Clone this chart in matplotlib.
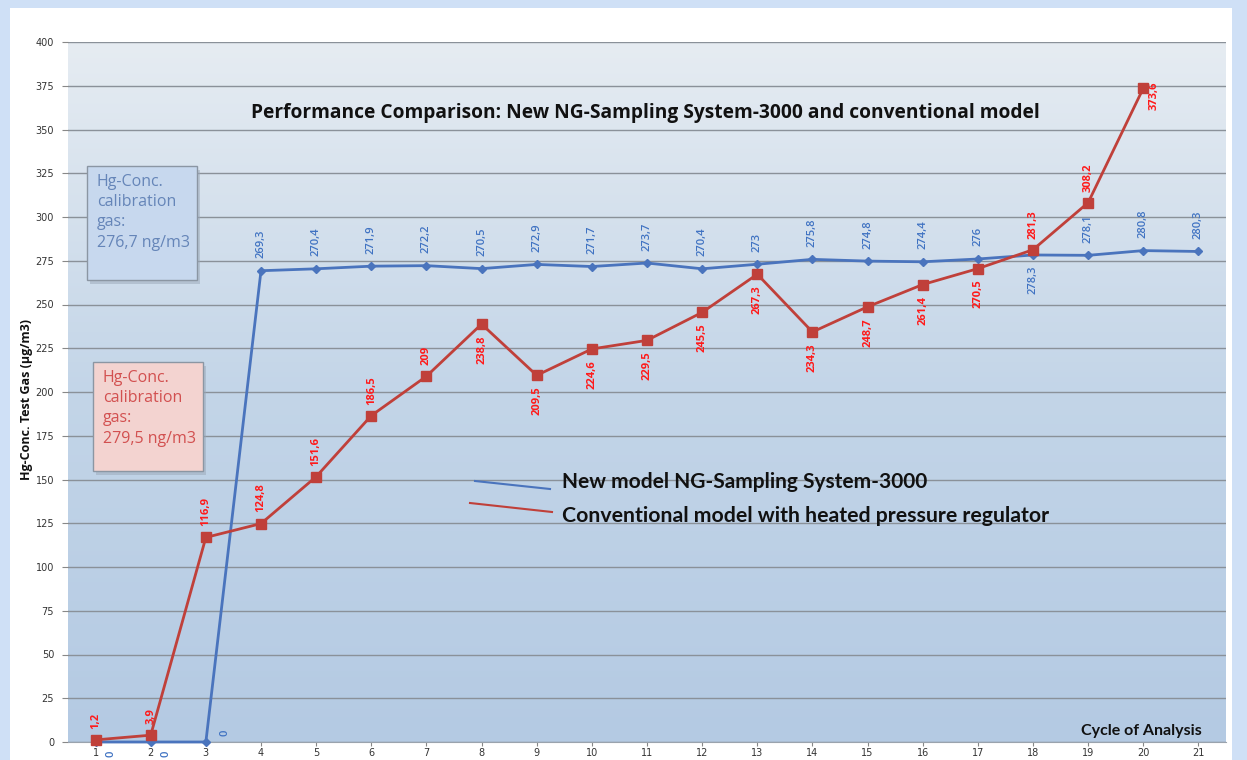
import numpy as np
import matplotlib
matplotlib.use("Agg")
import matplotlib.pyplot as plt
from matplotlib.patches import Rectangle
from matplotlib.colors import LinearSegmentedColormap

cycles = list(range(1, 22))
new_model = [0, 0, 0, 269.3, 270.4, 271.9, 272.2, 270.5, 272.9, 271.7, 273.7,
             270.4, 273, 275.8, 274.8, 274.4, 276, 278.3, 278.1, 280.8, 280.3]
conventional = [1.2, 3.9, 116.9, 124.8, 151.6, 186.5, 209, 238.8, 209.5, 224.6,
                229.5, 245.5, 267.3, 234.3, 248.7, 261.4, 270.5, 281.3, 308.2, 373.6]
new_labels = ["0", "0", "0", "269,3", "270,4", "271,9", "272,2", "270,5", "272,9",
              "271,7", "273,7", "270,4", "273", "275,8", "274,8", "274,4", "276",
              "278,3", "278,1", "280,8", "280,3"]
conv_labels = ["1,2", "3,9", "116,9", "124,8", "151,6", "186,5", "209", "238,8",
               "209,5", "224,6", "229,5", "245,5", "267,3", "234,3", "248,7",
               "261,4", "270,5", "281,3", "308,2", "373,6"]
yticks = list(range(0, 401, 25))
title = "Performance Comparison: New NG-Sampling System-3000 and conventional model"
series_names = ["New model NG-Sampling System-3000",
                "Conventional model with heated pressure regulator"]

W, H = 1247, 760
fig = plt.figure(figsize=(W / 100, H / 100), dpi=100)
fig.patch.set_facecolor("#cfe0f6")
# white panel
fig.patches.append(Rectangle((10 / W, 0), 1222 / W, 1 - 8 / H, transform=fig.transFigure,
                             facecolor="white", edgecolor="none", zorder=-10))

ax = fig.add_axes([68 / W, 18 / H, 1158 / W, 700 / H])
ax.set_zorder(1)

# gradient background
grad = np.linspace(0, 1, 256).reshape(-1, 1)
cmap = LinearSegmentedColormap.from_list("bg", ["#b4cae3", "#c3d5e8", "#e6ecf2"])
ax.imshow(grad, aspect="auto", cmap=cmap, extent=[0, 1, 0, 1], origin="lower",
          transform=ax.transAxes, zorder=0)
ax.set_xlim(0.5, 21.5)
ax.set_ylim(0, 400)

ax.set_yticks(yticks)
ax.set_xticks(cycles)
ax.tick_params(axis="y", labelsize=7, length=4, color="#888888", labelcolor="#333333", pad=6)
ax.tick_params(axis="x", labelsize=7, length=3, color="#888888", labelcolor="#333333", pad=1.5)
ax.grid(axis="y", color="#8a9199", linewidth=1.0, zorder=1)
for s in ["top", "right", "left"]:
    ax.spines[s].set_visible(False)
ax.spines["bottom"].set_color("#9aa3ad")

blue = "#4a74bd"
red = "#c0403a"
ax.plot(cycles, new_model, color=blue, lw=2, marker="D", ms=4, zorder=4, clip_on=False)
ax.plot(cycles[:len(conventional)], conventional, color=red, lw=2, marker="s", ms=7,
        zorder=5, clip_on=False)

blue_font = dict(family="Open Sans", fontsize=8, rotation=90, fontweight="semibold")
red_font = dict(family="Open Sans", fontsize=8, rotation=90, fontweight="bold")
# blue labels
for i, (x, y, t) in enumerate(zip(cycles, new_model, new_labels)):
    if i in (0, 1):
        ax.annotate(t, (x, y), xytext=(11, -6), textcoords="offset points",
                    ha="center", va="top", color="#3f72c2", annotation_clip=False, **blue_font)
    elif i == 2:
        ax.annotate(t, (x, y), xytext=(14, 4), textcoords="offset points",
                    ha="center", va="bottom", color="#3f72c2", **blue_font)
    elif i == 17:
        ax.annotate(t, (x, y), xytext=(0, -8), textcoords="offset points",
                    ha="center", va="top", color="#3f72c2", **blue_font)
    else:
        ax.annotate(t, (x, y), xytext=(0, 9), textcoords="offset points",
                    ha="center", va="bottom", color="#3f72c2", **blue_font)
# red labels
below = set(range(7, 17))
for i, (x, y, t) in enumerate(zip(cycles, conventional, conv_labels)):
    if i in below:
        ax.annotate(t, (x, y), xytext=(0, -8), textcoords="offset points",
                    ha="center", va="top", color="#ff1a1a", **red_font)
    elif i == 19:
        ax.annotate(t, (x, y), xytext=(8, 5), textcoords="offset points",
                    ha="center", va="top", color="#ff1a1a", **red_font)
    else:
        ax.annotate(t, (x, y), xytext=(0, 8), textcoords="offset points",
                    ha="center", va="bottom", color="#ff1a1a", **red_font)

# title
fig.text(645 / W, 1 - 113 / H, title, ha="center", va="center", fontsize=13.8,
         fontweight="bold", family="Open Sans", color="#111111", zorder=10)

# legend lines and text
fig.add_artist(plt.Line2D([475 / W, 550 / W], [1 - 481 / H, 1 - 489 / H], color=blue, lw=1.5, zorder=10))
fig.add_artist(plt.Line2D([470 / W, 552 / W], [1 - 503 / H, 1 - 512 / H], color=red, lw=1.5, zorder=10))
fig.text(562 / W, 1 - 482 / H, series_names[0], ha="left", va="center", fontsize=15,
         fontweight="bold", family="Lato", color="#111111", zorder=10)
fig.text(562 / W, 1 - 516 / H, series_names[1], ha="left", va="center", fontsize=15.3,
         fontweight="bold", family="Lato", color="#111111", zorder=10)

# calibration boxes
for (x0, y0, x1, y1, fc, tc, txt) in [
        (87, 166, 197, 280, "#c7d8ee", "#6585b8", "Hg-Conc.\ncalibration\ngas:\n276,7 ng/m3"),
        (93, 362, 203, 471, "#f3d3d0", "#d25050", "Hg-Conc.\ncalibration\ngas:\n279,5 ng/m3")]:
    fig.patches.append(Rectangle((x0 / W + 3 / W, 1 - (y1 + 4) / H), (x1 - x0) / W, (y1 - y0) / H,
                                 transform=fig.transFigure, facecolor="#9aa8b8", alpha=0.5,
                                 edgecolor="none", zorder=5))
    fig.patches.append(Rectangle((x0 / W, 1 - y1 / H), (x1 - x0) / W, (y1 - y0) / H,
                                 transform=fig.transFigure, facecolor=fc, edgecolor="#8b96a3",
                                 lw=1, zorder=6))
    fig.text((x0 + 10) / W, 1 - (y0 + 8) / H, txt, ha="left", va="top", fontsize=11.5,
             family="Open Sans", color=tc, linespacing=1.35, zorder=7)

# axis labels
fig.text(27 / W, 1 - 400 / H, "Hg-Conc. Test Gas (µg/m3)", rotation=90, ha="center",
         va="center", fontsize=9, fontweight="bold", family="Open Sans", color="#111111")
fig.text(1202 / W, 1 - 731 / H, "Cycle of Analysis", ha="right", va="center", fontsize=11.5,
         fontweight="bold", family="Lato", color="#111111", zorder=10)

fig.savefig("out.png", dpi=100)
